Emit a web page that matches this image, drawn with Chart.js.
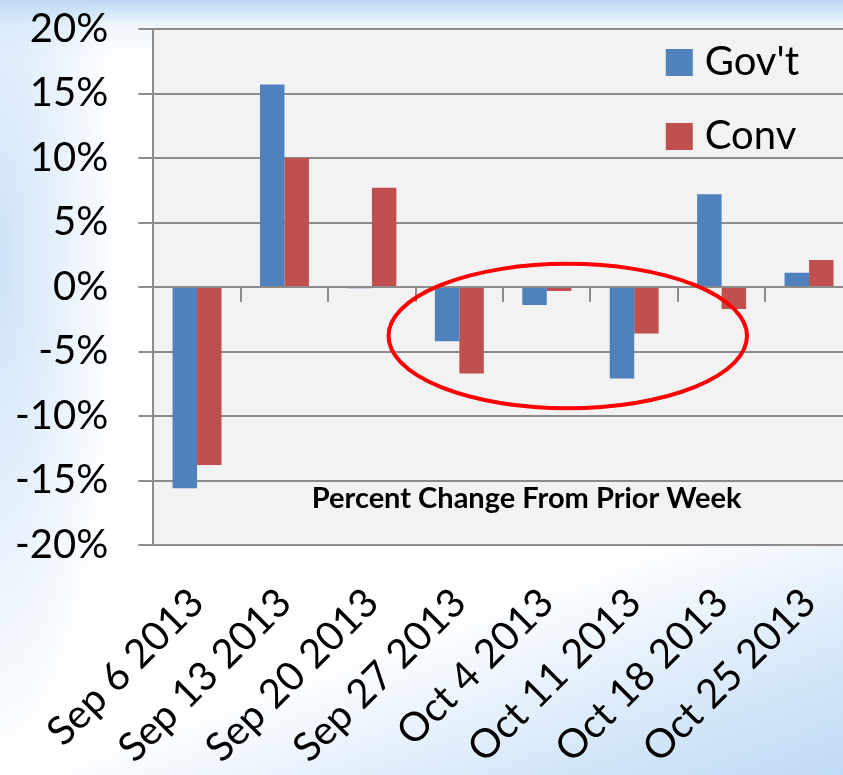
<!DOCTYPE html>
<html>
<head>
<meta charset="utf-8">
<script src="https://cdn.jsdelivr.net/npm/chart.js@4.4.0/dist/chart.umd.min.js"></script>
<style>
html, body { margin: 0; padding: 0; width: 843px; height: 775px; overflow: hidden; }
body {
    position: relative;
    background:
        radial-gradient(ellipse 120px 520px at 0px 260px, rgba(190,218,245,0.75), rgba(255,255,255,0)),
        linear-gradient(180deg, rgba(180,212,243,0.9) 0px, rgba(225,238,250,0.5) 26px, rgba(255,255,255,0) 60px),
        linear-gradient(160deg, rgba(255,255,255,0) 72%, rgba(200,224,247,0.8) 90%, rgba(185,215,245,0.9) 100%),
        #ffffff;
}
#wrap { position: absolute; left: -23px; top: -25px; width: 892px; height: 823px; }
</style>
</head>
<body>
<div id="wrap"><canvas id="chart_change" width="892" height="823"></canvas></div>
<script>
var weeks = ['Sep 6 2013', 'Sep 13 2013', 'Sep 20 2013', 'Sep 27 2013', 'Oct 4 2013', 'Oct 11 2013', 'Oct 18 2013', 'Oct 25 2013'];
var govt = [-15.6, 15.7, -0.1, -4.2, -1.4, -7.1, 7.2, 1.1];
var conv = [-13.8, 10.0, 7.7, -6.7, -0.3, -3.6, -1.7, 2.1];
var seriesNames = ["Gov't", 'Conv'];
var yRange = [-20, 20];
var yStep = 5;
var chartTitle = 'Percent Change From Prior Week';
// circled weeks, in category index / percent units
var highlight = { from: 2.19, to: 6.29, top: 1.8, bottom: -9.4 };

var chart_change;

var plotBackground = {
    id: 'plotBackground',
    beforeDraw: function(chart) {
        var a = chart.chartArea, ctx = chart.ctx;
        ctx.save();
        ctx.fillStyle = '#f2f2f2';
        ctx.fillRect(a.left, a.top, a.right - a.left, a.bottom - a.top);
        ctx.restore();
    }
};

var zeroAxis = {
    id: 'zeroAxis',
    afterDatasetsDraw: function(chart) {
        var ctx = chart.ctx, x = chart.scales.x, y = chart.scales.y, a = chart.chartArea;
        var y0 = y.getPixelForValue(0);
        ctx.save();
        ctx.strokeStyle = '#8c8c8c';
        ctx.lineWidth = 2;
        ctx.beginPath();
        ctx.moveTo(a.left, y0);
        ctx.lineTo(a.right, y0);
        for (var i = 1; i < weeks.length; i++) {
            var px = Math.round(x.getPixelForValue(i - 0.5));
            ctx.moveTo(px, y0);
            ctx.lineTo(px, y0 + 15);
        }
        ctx.stroke();

        // chart title inside the plot
        ctx.fillStyle = '#000';
        ctx.font = 'bold 29px Lato';
        ctx.textAlign = 'center';
        ctx.textBaseline = 'middle';
        ctx.fillText(chartTitle, x.getPixelForValue(3.77), y.getPixelForValue(-16.4));
        ctx.restore();
    }
};

var insideLegend = {
    id: 'insideLegend',
    afterDraw: function(chart) {
        var ctx = chart.ctx, a = chart.chartArea;
        ctx.save();
        ctx.font = '40px Lato';
        ctx.textBaseline = 'middle';
        ctx.textAlign = 'left';
        chart.data.datasets.forEach(function(ds, i) {
            var top = a.top + 20 + i * 74;
            ctx.fillStyle = ds.backgroundColor;
            ctx.fillRect(a.right - 187, top, 27, 27);
            ctx.fillStyle = '#000';
            ctx.fillText(ds.label, a.right - 148, top + 13);
        });
        ctx.restore();
    }
};

var circleMark = {
    id: 'circleMark',
    afterDraw: function(chart) {
        var ctx = chart.ctx, x = chart.scales.x, y = chart.scales.y;
        var x1 = x.getPixelForValue(highlight.from), x2 = x.getPixelForValue(highlight.to);
        var y1 = y.getPixelForValue(highlight.top), y2 = y.getPixelForValue(highlight.bottom);
        ctx.save();
        ctx.strokeStyle = '#ff0000';
        ctx.lineWidth = 4;
        ctx.beginPath();
        ctx.ellipse((x1 + x2) / 2, (y1 + y2) / 2, (x2 - x1) / 2, (y2 - y1) / 2, 0, 0, Math.PI * 2);
        ctx.stroke();
        ctx.restore();
    }
};

chart_change = new Chart(document.getElementById('chart_change'), {
    type: 'bar',
    data: {
        labels: weeks,
        datasets: [{
            label: seriesNames[0],
            data: govt,
            backgroundColor: '#4f81bd',
            categoryPercentage: 0.56,
            barPercentage: 1.0
        }, {
            label: seriesNames[1],
            data: conv,
            backgroundColor: '#c0504d',
            categoryPercentage: 0.56,
            barPercentage: 1.0
        }]
    },
    options: {
        responsive: false,
        animation: false,
        layout: {
            padding: { left: 8, top: 16, right: 0, bottom: 0 }
        },
        plugins: {
            legend: { display: false },
            tooltip: { enabled: false }
        },
        scales: {
            x: {
                grid: { display: false },
                border: { display: false },
                ticks: {
                    color: '#000',
                    font: { family: 'Lato', size: 40 },
                    minRotation: 45,
                    maxRotation: 45,
                    padding: 26
                }
            },
            y: {
                min: yRange[0],
                max: yRange[1],
                grid: {
                    color: '#8c8c8c',
                    lineWidth: 2,
                    tickLength: 15,
                    drawTicks: true
                },
                border: { display: true, color: '#8c8c8c', width: 2 },
                ticks: {
                    stepSize: yStep,
                    color: '#000',
                    font: { family: 'Lato', size: 40 },
                    padding: 30,
                    callback: function(v) { return v + '%'; }
                }
            }
        }
    },
    plugins: [plotBackground, zeroAxis, insideLegend, circleMark]
});
</script>
</body>
</html>
